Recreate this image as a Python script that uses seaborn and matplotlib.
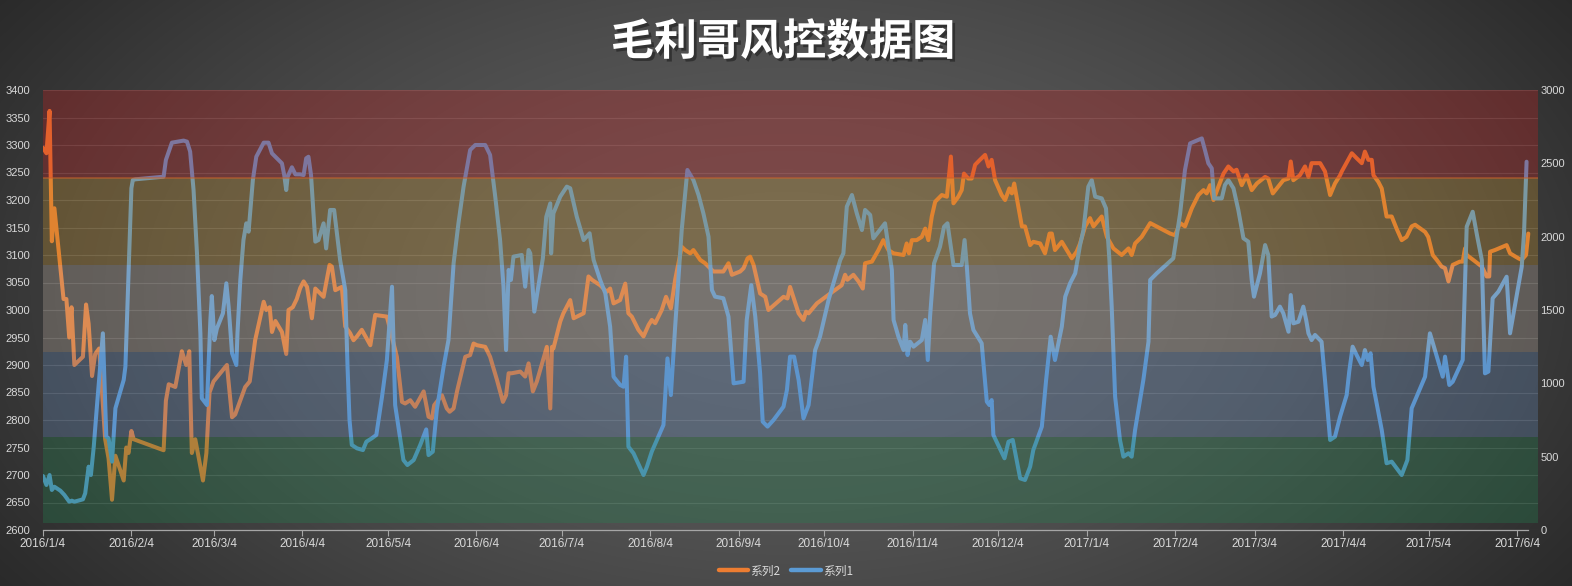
import numpy as np
import pandas as pd
import matplotlib
matplotlib.use("Agg")
import matplotlib.pyplot as plt
import matplotlib.patheffects as pe
import matplotlib.dates as mdates
from matplotlib.lines import Line2D
import seaborn as sns

# ---------------- data ----------------
start_date = "2016-01-04"

# 系列2 (left axis) : days since 2016-01-04 and values
days2 = [0, 1.2, 2.3, 3.1, 4.0, 7.2, 8.2, 9.2, 10.0, 11.0, 14.0, 15.1, 16.0, 17.2, 18.3, 19.7, 21.8, 23.0, 24.2, 25.4,
         28.3, 29.2, 30.0, 31.0, 31.8, 42.3, 43.1, 44.1, 46.4, 48.7, 50.2, 51.3, 52.2, 53.4, 56.1, 57.3, 58.4, 59.8, 64.5, 66.3,
         67.4, 70.9, 72.5, 74.4, 77.4, 78.3, 79.5, 80.3, 81.5, 83.8, 85.3, 86.1, 87.6, 89.0, 90.2,
         91.4, 92.6, 94.3, 95.5, 98.4, 100.5, 101.3, 102.5, 104.8, 106.0, 107.7, 108.9, 110.1, 111.8, 114.8, 116.5, 120.6,
         124.1, 125.9, 127.0, 128.8, 130.5, 133.5, 135.2, 136.4, 137.2, 138.1, 139.9, 141.6, 142.6, 144.0, 145.2, 148.1,
         149.8, 151.0, 152.2, 155.1, 156.8, 159.2, 161.3, 162.4, 163.3, 164.4, 167.4, 169.1, 170.3, 171.8, 173.2, 176.7,
         177.9, 178.5, 179.0, 181.4,
         182.5, 184.9, 186.1, 189.6, 191.3, 192.5, 195.4, 197.7, 198.9, 200.1,
         202.4, 204.2, 205.3, 206.5, 208.8, 210.6, 212.4, 213.5, 214.7, 217.0,
         218.5, 220.2, 221.7, 224.0, 225.2, 227.0, 228.1, 230.5, 232.2, 235.1,
         238.6, 240.4, 241.6, 244.5, 245.7, 247.1, 248.0, 249.2, 251.5, 253.3,
         254.4, 259.7, 261.1, 262.0, 265.0, 266.7, 267.6, 268.5, 271.4,
         276.1, 280.1, 281.3, 282.1, 284.2, 286.0, 287.5, 288.3, 290.7, 293.0,
         294.7, 296.5, 298.3, 301.8, 302.9, 303.7, 304.7, 306.4, 308.2, 309.4,
         310.5, 311.7, 312.9, 315.2, 317.0, 318.4, 319.3, 321.0, 322.2, 323.0,
         324.5, 325.7, 326.9, 328.6, 330.4, 331.6, 332.7, 333.9, 336.2, 337.4,
         338.9, 339.8, 340.6, 343.3, 344.4, 346.2, 347.3, 349.7, 351.4, 353.0,
         353.8, 354.9, 357.3, 360.8, 362.5, 363.7,
         365.5, 367.2, 368.4, 371.3, 373.1, 375.4, 378.3, 380.7, 381.8, 383.0,
         385.3, 388.3, 395.3, 397.0, 398.8, 400.5, 402.9, 405.2, 407.0, 408.1,
         409.3, 410.5, 412.2, 414.0, 415.7, 417.5, 418.6, 420.4, 422.1, 423.9,
         425.7, 428.6, 429.7, 431.3, 432.7, 435.0, 436.8, 437.6, 438.5, 440.8,
         442.6, 443.8, 444.9, 447.9, 449.6, 451.4, 453.1, 454.9,
         455.5, 459.0, 460.7, 462.5, 463.6, 464.8, 466.0, 466.6, 468.3, 469.5,
         471.2, 473.0, 474.7, 476.5, 478.2, 480.0, 481.2, 484.7, 485.8, 487.4,
         488.8, 490.5, 491.7, 492.9, 494.4, 496.9, 497.9, 498.7, 499.3, 501.6,
         504.6, 506.3, 507.2, 507.5, 509.2, 513.3, 514.5, 517.4, 518.6, 520.1,
         520.9]
vals2 = [3295, 3285, 3362, 3125, 3185, 3020, 3020, 2950, 3005, 2900, 2915, 3010, 2975, 2880, 2920, 2930, 2765, 2730, 2655, 2735,
         2690, 2750, 2740, 2780, 2765, 2745, 2835, 2865, 2860, 2925, 2900, 2925, 2740, 2765, 2690, 2740, 2850, 2870, 2900, 2805,
         2810, 2860, 2870, 2945, 3015, 3000, 3005, 2960, 2980, 2960, 2920, 3000, 3005, 3020, 3040,
         3052, 3042, 2985, 3039, 3024, 3082, 3079, 3036, 3042, 2970, 2958, 2945, 2952, 2964, 2936, 2991, 2988,
         2915, 2833, 2830, 2836, 2824, 2852, 2806, 2803, 2827, 2833, 2845, 2821, 2815, 2821, 2852, 2915,
         2918, 2939, 2936, 2933, 2915, 2873, 2833, 2845, 2885, 2885, 2888, 2879, 2903, 2852, 2870, 2933,
         2821, 2933, 2930, 2979,
         2994, 3018, 2985, 2994, 3061, 3055, 3045, 3033, 3039, 3012,
         3018, 3048, 2994, 2988, 2964, 2952, 2973, 2982, 2976, 3000,
         3024, 3003, 3055, 3115, 3109, 3103, 3109, 3091, 3085, 3070,
         3070, 3085, 3064, 3070, 3076, 3094, 3097, 3082, 3030, 3024,
         3000, 3024, 3021, 3042, 2994, 2982, 2997, 2994, 3012,
         3030, 3045, 3064, 3055, 3064, 3052, 3039, 3085, 3088, 3109,
         3127, 3109, 3103, 3100, 3121, 3103, 3127, 3127, 3133, 3148,
         3127, 3170, 3197, 3209, 3206, 3279, 3194, 3206, 3218, 3248,
         3239, 3239, 3264, 3273, 3282, 3261, 3273, 3236, 3209, 3200,
         3221, 3212, 3230, 3152, 3152, 3118, 3124, 3121, 3103, 3139,
         3139, 3109, 3124, 3094, 3106, 3121,
         3152, 3167, 3152, 3170, 3133, 3112, 3100, 3112, 3100, 3121,
         3133, 3158, 3139, 3136, 3158, 3152, 3185, 3209, 3218, 3212,
         3227, 3200, 3224, 3248, 3261, 3252, 3255, 3227, 3245, 3218,
         3230, 3242, 3239, 3212, 3221, 3236, 3239, 3270, 3236, 3245,
         3261, 3242, 3267, 3267, 3252, 3209, 3230, 3245,
         3252, 3285, 3276, 3267, 3288, 3273, 3273, 3245, 3233, 3221,
         3170, 3170, 3148, 3127, 3133, 3152, 3155, 3142, 3133, 3100,
         3091, 3079, 3076, 3052, 3082, 3088, 3088, 3112, 3100, 3091,
         3079, 3061, 3061, 3106, 3109, 3118, 3103, 3094, 3091, 3100,
         3139]

# 系列1 (right axis)
days1 = [0, 1.2, 2.3, 3.1, 4.0, 6.1, 7.5, 9.2, 10.1, 11.0, 14.0, 14.8, 16.0, 16.8, 17.8, 18.9, 20.1, 21.0, 22.2, 23.0,
         24.2, 25.4, 28.3, 28.9, 30.0, 31.0, 31.5, 32.4, 42.3, 43.1, 45.2, 49.3, 50.5, 51.6, 52.8, 54.0, 55.2, 55.7, 56.6, 57.5,
         58.1, 58.7, 59.2, 60.1, 61.0, 63.1, 64.3, 65.1, 66.3, 67.8, 68.2, 69.2, 70.3, 71.3, 72.1, 73.6, 74.8, 77.4, 79.1, 80.3,
         83.8, 84.6, 85.3, 85.8, 87.3, 88.5, 90.2,
         91.4, 92.3, 93.1, 94.0, 95.5, 96.6, 98.4, 99.3, 100.7, 102.1,
         104.2, 106.0, 106.8, 107.5, 108.3, 110.1, 112.2, 113.4, 115.3, 116.9,
         118.9, 120.6, 122.4, 123.5, 126.4, 127.8, 130.0, 132.3, 134.4, 135.2,
         136.7, 138.1, 140.5, 142.2, 144.0, 145.7, 147.5, 149.8, 151.6, 155.1,
         156.8, 158.6, 160.3, 161.5, 162.4, 163.3, 164.1, 165.0, 167.9, 169.1,
         170.3, 170.9, 172.3, 173.8, 175.3, 176.5, 177.9, 178.2, 179.0, 181.4,
         183.7, 184.9, 187.2, 189.6, 191.7, 193.1, 195.4, 197.2, 198.9, 200.1,
         202.4, 203.6, 204.5, 205.3, 207.1, 210.6, 211.8, 213.5, 215.3, 217.6,
         219.0, 220.2, 221.7, 224.0, 226.0, 228.1, 229.9, 231.6, 233.4, 234.6,
         235.7, 238.6, 240.4, 242.2, 245.7, 246.8, 248.4, 249.8, 251.5, 252.4,
         254.1, 256.2, 259.7, 260.9, 262.0, 263.4, 265.0, 266.7, 268.5, 270.8,
         272.5,
         275.5, 279.6, 280.7, 281.9, 283.7, 285.4, 287.2, 288.3, 290.1, 291.2,
         293.0, 295.3, 297.7, 298.3, 300.0, 301.8, 302.4, 303.2, 304.1, 305.3,
         308.2, 309.4, 310.3, 311.1, 312.5, 314.6, 316.0, 317.2, 319.3, 322.2,
         323.2, 324.0, 325.1, 326.3, 329.2, 331.0, 331.9, 332.7, 333.3, 337.2,
         338.6, 340.1, 342.7, 344.4, 346.2, 347.3, 350.3, 351.8, 353.4, 354.9,
         357.3, 358.5, 360.2, 362.0, 363.7,
         364.9, 366.6, 367.8, 369.0, 371.3, 372.8, 374.0, 374.8, 376.0, 377.7,
         378.9, 380.7, 381.8, 383.0, 385.9, 387.7, 388.3, 390.6, 396.4, 398.8,
         400.5, 402.3, 406.4, 407.5, 408.7, 409.9, 410.7, 413.4, 414.5, 415.7,
         417.5, 419.2, 421.0, 422.7, 423.9, 424.7, 426.8, 428.6, 429.7, 430.9,
         432.1, 433.8, 435.0, 436.8, 437.6, 438.5, 440.3, 442.0, 443.0, 443.8,
         444.9, 446.1, 448.4, 449.6, 451.4, 453.1, 454.9,
         457.2, 458.1, 459.3, 460.7, 462.5, 463.6, 464.6, 465.6, 466.6, 469.5,
         471.2, 473.0, 476.5, 478.5, 480.0, 484.7, 486.4, 487.8, 490.9, 491.7,
         493.2, 494.4, 497.9, 499.3, 501.4, 503.0, 504.6, 505.7, 506.9, 508.4,
         510.4, 513.3, 514.5, 518.6, 519.4, 520.3]
vals1 = [368, 307, 375, 273, 295, 268, 239, 193, 200, 193, 209, 250, 432, 375, 568, 841, 1125, 1341, 636, 625,
         466, 830, 1023, 1114, 1750, 2330, 2386, 2391, 2409, 2523, 2641, 2655, 2648, 2580, 2318, 1886, 1341, 898, 875, 852,
         1136, 1432, 1595, 1295, 1375, 1477, 1682, 1523, 1205, 1125, 1341, 1705, 1977, 2091, 2034, 2386, 2545, 2641, 2641, 2568,
         2500, 2420, 2318, 2409, 2473, 2425, 2425,
         2420, 2534, 2545, 2420, 1966, 1977, 2091, 1920, 2182, 2182,
         1841, 1636, 1114, 750, 580, 557, 545, 602, 625, 648,
         909, 1159, 1659, 852, 477, 443, 477, 580, 686, 511,
         534, 818, 1114, 1295, 1818, 2091, 2341, 2591, 2625, 2625,
         2557, 2273, 1977, 1659, 1227, 1773, 1705, 1864, 1875, 1659,
         1909, 1886, 1489, 1670, 1852, 2136, 2227, 1886, 2159, 2273,
         2341, 2330, 2136, 1977, 2023, 1841, 1705, 1614, 1386, 1045,
         989, 977, 1182, 568, 523, 375, 432, 534, 614, 716,
         1170, 920, 1386, 2045, 2455, 2386, 2284, 2159, 2000, 1636,
         1591, 1580, 1455, 1000, 1011, 1432, 1670, 1455, 1068, 739,
         705, 750, 841, 955, 1182, 1182, 1023, 761, 852, 1227,
         1318,
         1568, 1841, 1886, 2205, 2284, 2159, 2045, 2182, 2148, 1989,
         2034, 2091, 1773, 1432, 1318, 1227, 1398, 1193, 1284, 1250,
         1295, 1432, 1159, 1455, 1818, 1932, 2068, 2091, 1807, 1807,
         1977, 1795, 1477, 1364, 1273, 875, 852, 886, 648, 489,
         602, 614, 352, 341, 432, 545, 705, 1023, 1318, 1159,
         1386, 1591, 1682, 1750, 1943,
         2045, 2341, 2386, 2273, 2261, 2193, 1841, 1523, 909, 614,
         500, 523, 500, 682, 1023, 1284, 1705, 1750, 1852, 2159,
         2455, 2636, 2670, 2591, 2500, 2466, 2261, 2261, 2352, 2386,
         2330, 2182, 1989, 1966, 1705, 1591, 1750, 1943, 1875, 1455,
         1466, 1523, 1477, 1352, 1602, 1409, 1420, 1523, 1432, 1341,
         1295, 1330, 1284, 1023, 614, 636, 773,
         920, 1080, 1250, 1193, 1125, 1227, 1159, 1205, 977, 682,
         455, 466, 375, 477, 830, 1045, 1341, 1250, 1045, 1182,
         989, 1011, 1159, 2068, 2170, 2000, 1841, 1068, 1080, 1580,
         1625, 1727, 1341, 1795, 2023, 2511]

assert len(days2) == len(vals2), (len(days2), len(vals2))
assert len(days1) == len(vals1), (len(days1), len(vals1))

series_names = ["系列2", "系列1"]
title_text = "毛利哥风控数据图"
x_tick_labels = ["2016/1/4", "2016/2/4", "2016/3/4", "2016/4/4", "2016/5/4", "2016/6/4", "2016/7/4",
                 "2016/8/4", "2016/9/4", "2016/10/4", "2016/11/4", "2016/12/4", "2017/1/4", "2017/2/4",
                 "2017/3/4", "2017/4/4", "2017/5/4", "2017/6/4"]
left_ticks = list(range(2600, 3401, 50))
right_ticks = list(range(0, 3001, 500))
# risk bands (right-axis units), top to bottom
band_edges = [3000, 2400, 1805, 1215, 635, 45]
band_colors = ["#cc2121", "#c5932f", "#bbada0", "#6489bb", "#218550"]

# ---------------- styling ----------------
sns.set_theme(style="dark")
plt.rcParams["font.family"] = ["Liberation Sans", "Noto Sans CJK SC", "DejaVu Sans"]

W, H = 1572, 586
fig = plt.figure(figsize=(W / 100, H / 100), dpi=100)
fig.patch.set_facecolor("#3a3a3a")

# radial background gradient
bg = fig.add_axes([0, 0, 1, 1], zorder=-10)
yy, xx = np.mgrid[0:H, 0:W]
r2 = ((xx - 786) / 950.0) ** 2 + ((yy - 290) / 540.0) ** 2
v = 42 + (92 - 42) * np.clip(1 - r2, 0, 1) ** 1.2
img = np.dstack([v, v, v]) / 255.0
bg.imshow(img, aspect="auto", extent=[0, 1, 0, 1], origin="upper")
bg.set_axis_off()

left, right = 43 / W, 1537.7 / W
bottom, top = 1 - 530 / H, 1 - 90 / H
ax = fig.add_axes([left, bottom, right - left, top - bottom])
ax.patch.set_visible(False)
ax2 = ax.twinx()
ax2.patch.set_visible(False)

t0 = pd.Timestamp(start_date)
x2 = t0 + pd.to_timedelta(days2, unit="D")
x1 = t0 + pd.to_timedelta(days1, unit="D")

ORANGE = "#ED7D31"
BLUE = "#5B9BD5"
LW = 2.9

sns.lineplot(x=x2, y=vals2, ax=ax, color=ORANGE, linewidth=LW, estimator=None, sort=False,
             solid_joinstyle="round", solid_capstyle="round", zorder=3)
sns.lineplot(x=x1, y=vals1, ax=ax2, color=BLUE, linewidth=LW, estimator=None, sort=False,
             solid_joinstyle="round", solid_capstyle="round", zorder=3)

# translucent risk bands laid over the lines
for hi, lo, c in zip(band_edges[:-1], band_edges[1:], band_colors):
    ax2.axhspan(lo, hi, color=c, alpha=0.30, lw=0, zorder=5)
ax2.axhline(band_edges[1], color="#c8642a", lw=1.3, alpha=0.55, zorder=6)

ax.set_ylim(left_ticks[0], left_ticks[-1])
ax2.set_ylim(right_ticks[0], right_ticks[-1])
ax.set_yticks(left_ticks)
ax2.set_yticks(right_ticks)
ax.grid(axis="y", color="white", alpha=0.13, lw=0.8)
ax.grid(axis="x", visible=False)
ax2.grid(False)

tick_dates = [pd.to_datetime(s, format="%Y/%m/%d") for s in x_tick_labels]
ax.set_xlim(t0, t0 + pd.Timedelta(days=524.2))
ax.set_xticks(tick_dates)
ax.set_xticklabels(x_tick_labels)
ax.set_xlabel("")
ax.set_ylabel("")
ax2.set_ylabel("")

lab_col = "#d9d9d9"
ax.tick_params(axis="x", colors="#a6a6a6", labelcolor=lab_col, labelsize=8.5, length=4, width=0.8,
               direction="out", pad=2, bottom=True)
ax.tick_params(axis="y", labelcolor=lab_col, labelsize=8, length=0, pad=9)
ax2.tick_params(axis="y", labelcolor=lab_col, labelsize=8, length=0, pad=2)

for s in ["top", "left", "right"]:
    ax.spines[s].set_visible(False)
for s in ["top", "left", "right", "bottom"]:
    ax2.spines[s].set_visible(False)
ax.spines["bottom"].set_visible(True)
ax.spines["bottom"].set_color("#a6a6a6")
ax.spines["bottom"].set_linewidth(0.9)
ax.spines["bottom"].set_bounds(mdates.date2num(x2[0]), mdates.date2num(x2[-1]))

# title
fig.text(0.498, 1 - 42 / H, title_text, ha="center", va="center", fontsize=31, fontweight="bold",
         color="white", family=["Noto Sans CJK SC", "DejaVu Sans"],
         path_effects=[pe.SimplePatchShadow(offset=(2, -2), shadow_rgbFace="#1a1a1a", alpha=0.55), pe.Normal()])

# legend
handles = [Line2D([0], [0], color=ORANGE, lw=3.2, solid_capstyle="round"),
           Line2D([0], [0], color=BLUE, lw=3.2, solid_capstyle="round")]
leg = fig.legend(handles, series_names, loc="center", bbox_to_anchor=(0.5, 1 - 571 / H), ncol=2,
                 frameon=False, handlelength=2.5, handletextpad=0.2, columnspacing=0.9,
                 prop={"family": ["Noto Sans CJK SC", "DejaVu Sans"], "size": 8.5})
for t in leg.get_texts():
    t.set_color(lab_col)

fig.savefig("out.png", dpi=100, facecolor=fig.get_facecolor())
